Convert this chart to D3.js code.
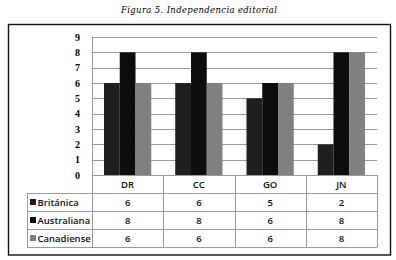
<!DOCTYPE html>
<html>
<head>
<meta charset="utf-8">
<script src="https://cdn.jsdelivr.net/npm/d3@7"></script>
<style>
  body { margin: 0; background: #fff; }
  svg { display: block; }
</style>
</head>
<body>
<svg id="chart" width="396" height="260"></svg>
<script>
// datos
const categories = ["DR", "CC", "GO", "JN"];
const seriesNames = ["Británica", "Australiana", "Canadiense"];
const britanica = [6, 6, 5, 2];
const australiana = [8, 8, 6, 8];
const canadiense = [6, 6, 6, 8];
const yTicks = [0, 1, 2, 3, 4, 5, 6, 7, 8, 9];
const colors = ["#1f1f1f", "#0d0d0d", "#808080"];

const series = [britanica, australiana, canadiense];

const svg = d3.select("#chart");

// titulo
svg.append("text")
   .attr("x", 199)
   .attr("y", 13)
   .attr("text-anchor", "middle")
   .style("font-family", "DejaVu Serif")
   .style("font-style", "italic")
   .style("font-size", "8.5px")
   .attr("textLength", 156)
   .text("Figura 5. Independencia editorial");

// marco exterior
svg.append("rect")
   .attr("x", 8.5).attr("y", 24.5)
   .attr("width", 382).attr("height", 230.5)
   .attr("fill", "none")
   .attr("stroke", "#111")
   .attr("stroke-width", 1.4);

const plotLeft = 92, plotRight = 377, plotTop = 37, plotBottom = 175;
const rowH = 18;

const x = d3.scaleBand()
            .domain(categories)
            .range([plotLeft, plotRight])
            .paddingInner(0)
            .paddingOuter(0);

const xInner = d3.scaleBand()
                 .domain(d3.range(series.length))
                 .range([0, x.bandwidth()])
                 .paddingInner(0)
                 .paddingOuter(0.76);

const y = d3.scaleLinear()
            .domain([0, 9])
            .range([plotBottom, plotTop]);

// lineas de la cuadricula
svg.append("g")
   .selectAll("line")
   .data(yTicks.filter(d => d > 0))
   .join("line")
   .attr("x1", plotLeft).attr("x2", plotRight)
   .attr("y1", d => Math.round(y(d)) + 0.5)
   .attr("y2", d => Math.round(y(d)) + 0.5)
   .attr("stroke", "#9a9a9a")
   .attr("stroke-width", 1);

// etiquetas eje y
svg.append("g")
   .selectAll("text")
   .data(yTicks)
   .join("text")
   .attr("x", 80)
   .attr("y", d => y(d) + 3.5)
   .attr("text-anchor", "end")
   .style("font-family", "Liberation Serif")
   .style("font-weight", "bold")
   .style("font-size", "10px")
   .text(d => d);

// barras
const groups = svg.append("g")
   .selectAll("g")
   .data(categories)
   .join("g")
   .attr("transform", d => `translate(${x(d)},0)`);

groups.selectAll("rect")
   .data((d, i) => series.map((s, j) => ({ j, v: s[i] })))
   .join("rect")
   .attr("x", d => xInner(d.j))
   .attr("width", xInner.bandwidth())
   .attr("y", d => y(d.v))
   .attr("height", d => y(0) - y(d.v))
   .attr("fill", d => colors[d.j]);

// tabla de datos
const grid = svg.append("g")
   .attr("stroke", "#9a9a9a")
   .attr("stroke-width", 1);

// eje x / borde superior tabla
grid.append("line")
   .attr("x1", plotLeft).attr("x2", plotRight)
   .attr("y1", plotBottom + 0.5).attr("y2", plotBottom + 0.5);

// eje y
grid.append("line")
   .attr("x1", plotLeft + 0.5).attr("x2", plotLeft + 0.5)
   .attr("y1", plotTop).attr("y2", plotBottom + rowH * 4);

// filas
d3.range(1, 5).forEach(r => {
  grid.append("line")
     .attr("x1", 27).attr("x2", plotRight)
     .attr("y1", plotBottom + r * rowH + 0.5)
     .attr("y2", plotBottom + r * rowH + 0.5);
});

// columnas
categories.forEach(c => {
  grid.append("line")
     .attr("x1", Math.round(x(c) + x.bandwidth()) + 0.5)
     .attr("x2", Math.round(x(c) + x.bandwidth()) + 0.5)
     .attr("y1", plotBottom).attr("y2", plotBottom + rowH * 4);
});
grid.append("line")
   .attr("x1", 27.5).attr("x2", 27.5)
   .attr("y1", plotBottom + rowH).attr("y2", plotBottom + rowH * 4);

const tableFont = sel => sel
   .style("font-family", "Open Sans")
   .style("font-weight", "600")
   .style("font-size", "9.5px")
   .attr("fill", "#111");

// encabezados de categoria
svg.append("g")
   .selectAll("text")
   .data(categories)
   .join("text")
   .attr("x", d => x(d) + x.bandwidth() / 2)
   .attr("y", plotBottom + rowH / 2 + 3.5)
   .attr("text-anchor", "middle")
   .call(tableFont)
   .text(d => d);

// filas de series
seriesNames.forEach((name, j) => {
  const rowY = plotBottom + (j + 1) * rowH + rowH / 2;
  svg.append("rect")
     .attr("x", 30).attr("y", rowY - 3)
     .attr("width", 6).attr("height", 6)
     .attr("fill", colors[j]);
  svg.append("text")
     .attr("x", 37.5)
     .attr("y", rowY + 3.5)
     .call(tableFont)
     .text(name);
  svg.append("g")
     .selectAll("text")
     .data(series[j])
     .join("text")
     .attr("x", (d, i) => x(categories[i]) + x.bandwidth() / 2)
     .attr("y", rowY + 3.5)
     .attr("text-anchor", "middle")
     .call(tableFont)
     .text(d => d);
});
</script>
</body>
</html>
